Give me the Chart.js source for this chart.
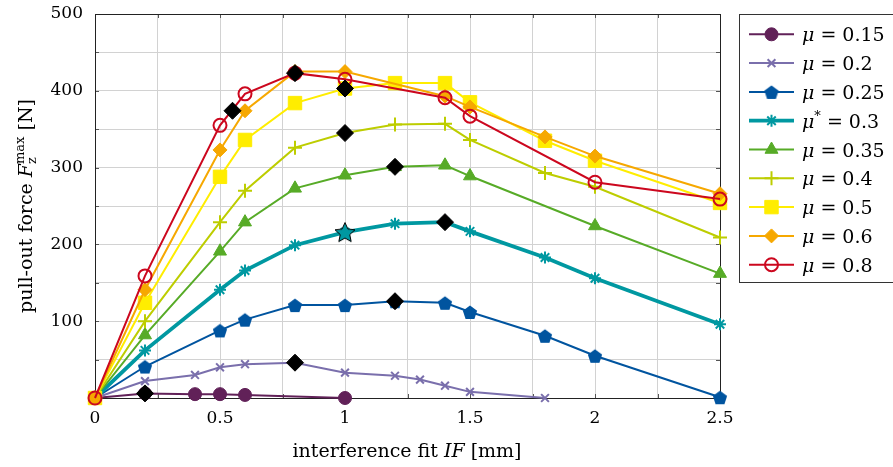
<!DOCTYPE html>
<html>
<head>
<meta charset="utf-8">
<script src="https://cdn.jsdelivr.net/npm/chart.js@4.4.0/dist/chart.umd.min.js"></script>
<style>
  html, body { margin: 0; padding: 0; background: #fff; }
  #wrap { width: 893px; height: 467px; }
</style>
</head>
<body>
<div id="wrap"><canvas id="pulloutChart" width="893" height="467"></canvas></div>
<script>
// interference fit IF [mm] and pull-out force Fz_max [N] per friction coefficient
const ifMu015 = [0, 0.2, 0.4, 0.5, 0.6, 1.0];
const fzMu015 = [0, 6, 5, 5, 4, 0];
const ifMu020 = [0, 0.2, 0.4, 0.5, 0.6, 0.8, 1.0, 1.2, 1.3, 1.4, 1.5, 1.8];
const fzMu020 = [0, 22, 30, 40, 44, 46, 33, 29, 24, 16, 8, 0];
const ifMu025 = [0, 0.2, 0.5, 0.6, 0.8, 1.0, 1.2, 1.4, 1.5, 1.8, 2.0, 2.5];
const fzMu025 = [0, 41, 88, 102, 121, 121, 126, 124, 112, 81, 55, 1];
const ifMu030 = [0, 0.2, 0.5, 0.6, 0.8, 1.0, 1.2, 1.4, 1.5, 1.8, 2.0, 2.5];
const fzMu030 = [0, 62, 141, 166, 199, 216, 227, 229, 217, 183, 156, 96];
const ifMu035 = [0, 0.2, 0.5, 0.6, 0.8, 1.0, 1.2, 1.4, 1.5, 2.0, 2.5];
const fzMu035 = [0, 82, 191, 229, 273, 290, 301, 303, 289, 224, 162];
const ifMu040 = [0, 0.2, 0.5, 0.6, 0.8, 1.0, 1.2, 1.4, 1.5, 1.8, 2.0, 2.5];
const fzMu040 = [0, 100, 229, 270, 326, 345, 356, 357, 336, 293, 275, 209];
const ifMu050 = [0, 0.2, 0.5, 0.6, 0.8, 1.0, 1.2, 1.4, 1.5, 1.8, 2.0, 2.5];
const fzMu050 = [0, 124, 288, 336, 384, 403, 410, 410, 385, 335, 309, 254];
const ifMu060 = [0, 0.2, 0.5, 0.6, 0.8, 1.0, 1.4, 1.5, 1.8, 2.0, 2.5];
const fzMu060 = [0, 141, 323, 374, 425, 425, 393, 379, 340, 315, 266];
const ifMu080 = [0, 0.2, 0.5, 0.6, 0.8, 1.0, 1.4, 1.5, 2.0, 2.5];
const fzMu080 = [0, 159, 355, 396, 423, 415, 391, 367, 281, 259];

// maximum of each curve (black diamonds)
const ifPeak = [0.2, 0.8, 1.2, 1.4, 1.2, 1.0, 1.0, 0.8, 0.55];
const fzPeak = [6, 46, 126, 229, 301, 345, 403, 423, 374];
// reference point on the mu* curve
const ifRef = [1.0];
const fzRef = [216];

const muValues = ['0.15', '0.2', '0.25', '0.3', '0.35', '0.4', '0.5', '0.6', '0.8'];
const xTickLabels = ['0', '0.5', '1', '1.5', '2', '2.5'];
const yTickLabels = ['100', '200', '300', '400', '500'];

const seriesX = [ifMu015, ifMu020, ifMu025, ifMu030, ifMu035, ifMu040, ifMu050, ifMu060, ifMu080];
const seriesY = [fzMu015, fzMu020, fzMu025, fzMu030, fzMu035, fzMu040, fzMu050, fzMu060, fzMu080];

const colors = ['#612158', '#7A6FAC', '#00549F', '#0098A1', '#57AB27', '#BDCD00', '#FFED00', '#F6A800', '#CC071E'];
const serif = '"DejaVu Serif", "Liberation Serif", serif';

function makeMarker(size, draw) {
  const c = document.createElement('canvas');
  c.width = size;
  c.height = size;
  draw(c.getContext('2d'), size / 2);
  return c;
}

const pentagon = makeMarker(16, (ctx, m) => {
  ctx.beginPath();
  for (let i = 0; i < 5; i++) {
    const a = -Math.PI / 2 + i * 2 * Math.PI / 5;
    ctx.lineTo(m + 7.5 * Math.cos(a), m + 1 + 7.5 * Math.sin(a));
  }
  ctx.closePath();
  ctx.fillStyle = colors[2];
  ctx.fill();
});

const bigStar = makeMarker(24, (ctx, m) => {
  ctx.beginPath();
  for (let i = 0; i < 10; i++) {
    const a = -Math.PI / 2 + i * Math.PI / 5;
    const r = i % 2 === 0 ? 10.5 : 5;
    ctx.lineTo(m + r * Math.cos(a), m + 1 + r * Math.sin(a));
  }
  ctx.closePath();
  ctx.fillStyle = colors[3];
  ctx.fill();
  ctx.strokeStyle = '#000';
  ctx.lineWidth = 1;
  ctx.stroke();
});

const markerStyles = [
  { pointStyle: 'circle', radius: 6.5, fill: true, bw: 1 },
  { pointStyle: 'crossRot', radius: 5.5, fill: false, bw: 2 },
  { pointStyle: pentagon, radius: 7, fill: true, bw: 0 },
  { pointStyle: 'star', radius: 6, fill: false, bw: 2 },
  { pointStyle: 'triangle', radius: 7.5, fill: true, bw: 1 },
  { pointStyle: 'cross', radius: 7, fill: false, bw: 2 },
  { pointStyle: 'rect', radius: 9.5, fill: true, bw: 1 },
  { pointStyle: 'rectRot', radius: 7, fill: true, bw: 1 },
  { pointStyle: 'circle', radius: 6.5, fill: false, bw: 2 }
];

function toPoints(xs, ys) {
  return xs.map((x, i) => ({ x: x, y: ys[i] }));
}

const datasets = [];
seriesX.forEach((xs, i) => {
  const m = markerStyles[i];
  datasets.push({
    label: 'mu = ' + muValues[i],
    data: toPoints(xs, seriesY[i]),
    showLine: true,
    borderColor: colors[i],
    backgroundColor: colors[i],
    borderWidth: i === 3 ? 3.8 : 2,
    pointStyle: m.pointStyle,
    pointRadius: m.radius,
    pointBorderWidth: m.bw,
    pointBorderColor: colors[i],
    pointBackgroundColor: m.fill ? colors[i] : 'rgba(0,0,0,0)',
    tension: 0,
    clip: false,
    order: 10 - i
  });
});

datasets.push({
  label: 'reference',
  data: toPoints(ifRef, fzRef),
  showLine: false,
  pointStyle: bigStar,
  pointRadius: 10,
  clip: false,
  order: 1
});

datasets.push({
  label: 'maximum',
  data: toPoints(ifPeak, fzPeak),
  showLine: false,
  pointStyle: 'rectRot',
  pointRadius: 8.5,
  pointBorderWidth: 1,
  pointBorderColor: '#000',
  pointBackgroundColor: '#000',
  clip: false,
  order: 0
});

// draws text made of several runs, optionally with stacked sub/superscripts
function drawRuns(ctx, runs, cx, baseline) {
  const widths = runs.map(r => {
    ctx.font = r.font;
    if (r.sup !== undefined) {
      return Math.max(ctx.measureText(r.sup).width, ctx.measureText(r.sub).width);
    }
    return ctx.measureText(r.text).width;
  });
  const total = widths.reduce((a, b) => a + b, 0);
  let x = cx - total / 2;
  ctx.textAlign = 'left';
  ctx.textBaseline = 'alphabetic';
  runs.forEach((r, i) => {
    ctx.font = r.font;
    if (r.sup !== undefined) {
      ctx.fillText(r.sup, x, baseline - 8);
      ctx.fillText(r.sub, x, baseline + 4);
    } else {
      ctx.fillText(r.text, x, baseline);
    }
    x += widths[i];
  });
  return total;
}

const frameAndTicks = {
  id: 'frameAndTicks',
  beforeDatasetsDraw(chart) {
    const { ctx, chartArea: a, scales } = chart;
    ctx.save();
    ctx.strokeStyle = '#555';
    ctx.lineWidth = 1;
    ctx.beginPath();
    for (let v = 0; v <= 2.5001; v += 0.25) {
      const px = Math.round(scales.x.getPixelForValue(v)) + 0.5;
      ctx.moveTo(px, a.bottom); ctx.lineTo(px, a.bottom - 4);
      ctx.moveTo(px, a.top); ctx.lineTo(px, a.top + 4);
    }
    for (let v = 0; v <= 500; v += 50) {
      const py = Math.round(scales.y.getPixelForValue(v)) + 0.5;
      ctx.moveTo(a.left, py); ctx.lineTo(a.left + 4, py);
      ctx.moveTo(a.right, py); ctx.lineTo(a.right - 4, py);
    }
    ctx.stroke();
    ctx.strokeStyle = '#222';
    ctx.strokeRect(Math.round(a.left) + 0.5, Math.round(a.top) + 0.5,
      Math.round(a.right - a.left), Math.round(a.bottom - a.top));
    ctx.restore();
  }
};

const titlesAndLegend = {
  id: 'titlesAndLegend',
  afterDraw(chart) {
    const ctx = chart.ctx;
    const regular = '19px ' + serif;
    const italic = 'italic 19px ' + serif;
    const smallUp = '13px ' + serif;
    ctx.save();
    ctx.fillStyle = '#000';

    // x axis title
    drawRuns(ctx, [
      { text: 'interference fit ', font: regular },
      { text: 'IF', font: italic },
      { text: ' [mm]', font: regular }
    ], 407, 457);

    // y axis title
    ctx.save();
    ctx.translate(0, 206);
    ctx.rotate(-Math.PI / 2);
    drawRuns(ctx, [
      { text: 'pull-out force ', font: regular },
      { text: 'F', font: italic },
      { sup: 'max', sub: 'z', font: smallUp },
      { text: ' [N]', font: regular }
    ], 0, 32);
    ctx.restore();

    // legend box
    ctx.strokeStyle = '#333';
    ctx.lineWidth = 1;
    ctx.strokeRect(739.5, 14.5, 200, 268);
    const helpers = Chart.helpers;
    seriesX.forEach((xs, i) => {
      const y = 34.3 + i * 28.8;
      const m = markerStyles[i];
      ctx.strokeStyle = colors[i];
      ctx.lineWidth = i === 3 ? 3.8 : 2;
      ctx.beginPath();
      ctx.moveTo(749, y);
      ctx.lineTo(794, y);
      ctx.stroke();
      ctx.fillStyle = m.fill ? colors[i] : 'rgba(0,0,0,0)';
      ctx.lineWidth = m.bw;
      helpers.drawPoint(ctx, { pointStyle: m.pointStyle, radius: m.radius, borderWidth: m.bw, rotation: 0 }, 771.5, y);
      ctx.fillStyle = '#000';
      const runs = [{ text: 'μ', font: italic }];
      if (i === 3) runs.push({ sup: '*', sub: '', font: smallUp });
      runs.push({ text: ' = ' + muValues[i], font: regular });
      let w = 0;
      runs.forEach(r => { ctx.font = r.font; w += ctx.measureText(r.sup !== undefined ? r.sup : r.text).width; });
      drawRuns(ctx, runs, 802 + w / 2, y + 7);
    });
    ctx.restore();
  }
};

new Chart(document.getElementById('pulloutChart'), {
  type: 'scatter',
  data: { datasets: datasets },
  options: {
    responsive: false,
    animation: false,
    layout: { padding: { top: 14, right: 173, left: 0, bottom: 0 } },
    plugins: { legend: { display: false }, tooltip: { enabled: false } },
    scales: {
      x: {
        type: 'linear',
        min: 0,
        max: 2.5,
        afterFit(scale) {
          scale.height = 69;
          scale.paddingLeft = 0;
          scale.paddingRight = 0;
        },
        border: { display: false },
        grid: { color: '#d2d2d2', lineWidth: 1, drawTicks: false },
        ticks: {
          stepSize: 0.25,
          padding: 10,
          color: '#000',
          font: { family: serif, size: 17 },
          callback: v => {
            const k = Math.round(v * 2);
            return Math.abs(v * 2 - k) < 1e-6 ? xTickLabels[k] : '';
          }
        }
      },
      y: {
        type: 'linear',
        min: 0,
        max: 500,
        afterFit(scale) {
          scale.width = 95;
          scale.paddingTop = 0;
          scale.paddingBottom = 0;
        },
        border: { display: false },
        grid: { color: '#d2d2d2', lineWidth: 1, drawTicks: false },
        ticks: {
          stepSize: 50,
          padding: 12,
          color: '#000',
          font: { family: serif, size: 17 },
          callback: v => (v % 100 === 0 && v > 0) ? yTickLabels[v / 100 - 1] : ''
        }
      }
    }
  },
  plugins: [frameAndTicks, titlesAndLegend]
});
</script>
</body>
</html>
